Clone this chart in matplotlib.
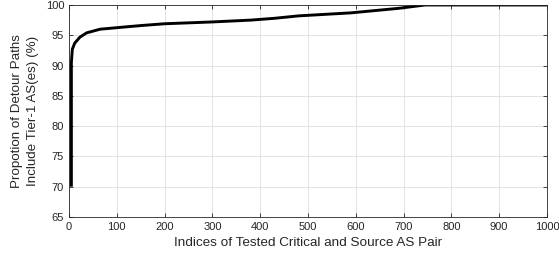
import matplotlib
matplotlib.use('Agg')
import matplotlib.pyplot as plt

# значения
idx = [5, 5, 7, 12, 23, 37, 65, 107, 150, 200, 300, 380, 430, 480, 590, 690, 745, 1000]
prop = [70, 90.5, 92.7, 93.7, 94.7, 95.4, 96.0, 96.3, 96.6, 96.9, 97.2, 97.5, 97.8, 98.2, 98.7, 99.45, 100, 100]

plt.rcParams['font.family'] = ['Liberation Sans', 'DejaVu Sans']
plt.rcParams['font.size'] = 8

fig = plt.figure(figsize=(5.59, 2.62), dpi=100)
ax = fig.add_axes([0.1234, 0.1718, 0.8551, 0.8092])

ax.plot(idx, prop, color='black', linewidth=2.1, solid_capstyle='butt')

ax.set_xlim(0, 1000)
ax.set_ylim(65, 100)
ax.set_xticks(range(0, 1001, 100))
ax.set_yticks(range(65, 101, 5))
ax.grid(True, color='#dedede', linewidth=0.6)
ax.set_axisbelow(True)
ax.tick_params(direction='in', top=True, right=True, length=3, width=0.6,
               colors='#262626', labelcolor='#262626', labelsize=8)
for s in ax.spines.values():
    s.set_color('#262626')
    s.set_linewidth(0.6)

ax.set_xlabel('Indices of Tested Critical and Source AS Pair', color='#262626',
              fontsize=9.7, labelpad=4)
ax.set_ylabel('Propotion of Detour Paths\nInclude Tier-1 AS(es) (%)', color='#262626',
              fontsize=9.6, labelpad=5, linespacing=1.45)

fig.savefig('out.png', dpi=100)
